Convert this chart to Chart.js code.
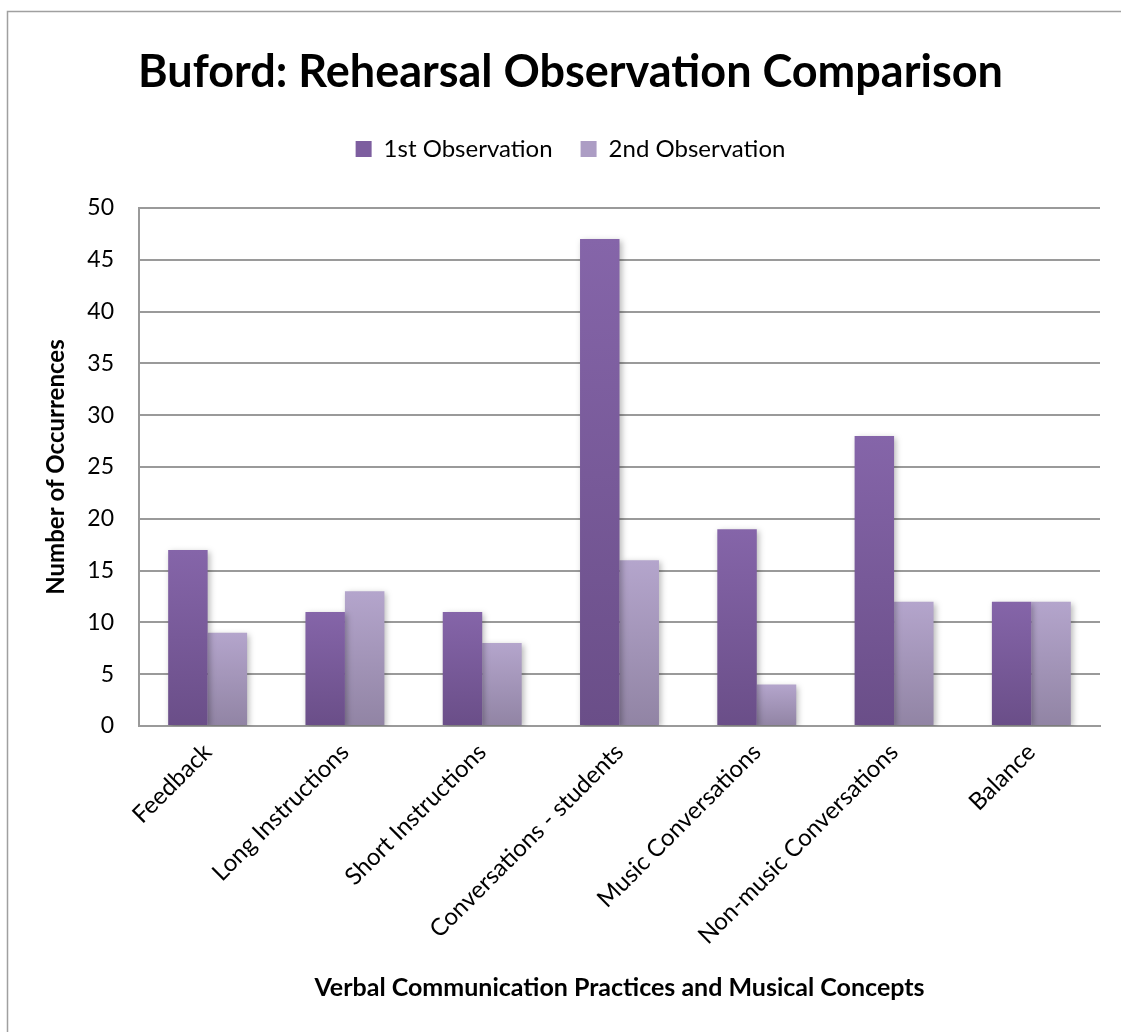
<!DOCTYPE html>
<html>
<head>
<meta charset="utf-8">
<script src="https://cdn.jsdelivr.net/npm/chart.js@4.4.0/dist/chart.umd.min.js"></script>
<style>
  html, body { margin: 0; padding: 0; background: #fff; }
  #wrap { width: 1121px; height: 1032px; }
</style>
</head>
<body>
<div id="wrap"><canvas id="chart"></canvas></div>
<script>
var categories = ['Feedback', 'Long Instructions', 'Short Instructions', 'Conversations - students',
    'Music Conversations', 'Non-music Conversations', 'Balance'];
var firstObs = [17, 11, 11, 47, 19, 28, 12];
var secondObs = [9, 13, 8, 16, 4, 12, 12];
var yTicks = [0, 5, 10, 15, 20, 25, 30, 35, 40, 45, 50];

var font = 'Lato, "Open Sans", sans-serif';

// each bar fades from light at its top to dark at the baseline
function gradient(top, bottom) {
    return function (c) {
        var chart = c.chart;
        if (!chart.chartArea || c.type !== 'data') return top;
        var y = chart.scales.y;
        var y0 = y.getPixelForValue(0);
        var y1 = y.getPixelForValue(c.raw);
        if (y0 - y1 < 1) return top;
        var g = chart.ctx.createLinearGradient(0, y1, 0, y0);
        g.addColorStop(0, top);
        g.addColorStop(1, bottom);
        return g;
    };
}

var frame = {
    id: 'frame',
    beforeInit: function (chart) {
        // leave more room under the legend
        if (chart.legend) {
            var fit = chart.legend.fit;
            chart.legend.fit = function () {
                fit.call(this);
                this.height += 37;
            };
        }
    },
    beforeDraw: function (chart) {
        var ctx = chart.ctx;
        ctx.save();
        ctx.fillStyle = '#fff';
        ctx.fillRect(0, 0, chart.width, chart.height);
        ctx.strokeStyle = '#a0a0a0';
        ctx.lineWidth = 1.5;
        ctx.strokeRect(7.5, 11.5, chart.width + 20, chart.height + 20);
        ctx.restore();
    },
    beforeDatasetsDraw: function (chart) {
        var ctx = chart.ctx;
        ctx.save();
        ctx.shadowColor = 'rgba(0,0,0,0.28)';
        ctx.shadowBlur = 6;
        ctx.shadowOffsetX = 2;
        ctx.shadowOffsetY = 2;
    },
    afterDatasetsDraw: function (chart) {
        chart.ctx.restore();
    }
};

new Chart(document.getElementById('chart'), {
    type: 'bar',
    data: {
        labels: categories,
        datasets: [
            {
                label: '1st Observation',
                data: firstObs,
                backgroundColor: gradient('#8565a9', '#6a4e88'),
                borderWidth: 0
            },
            {
                label: '2nd Observation',
                data: secondObs,
                backgroundColor: gradient('#b4a5cc', '#9184a4'),
                borderWidth: 0
            }
        ]
    },
    plugins: [frame],
    options: {
        responsive: true,
        maintainAspectRatio: false,
        animation: false,
        layout: { padding: { left: 20, right: 0, top: 0, bottom: 0 } },
        datasets: { bar: { barPercentage: 1, categoryPercentage: 0.575 } },
        plugins: {
            title: {
                display: true,
                text: 'Buford: Rehearsal Observation Comparison',
                color: '#000',
                font: { family: font, size: 45, weight: 'bold' },
                padding: { top: 45, bottom: 10 }
            },
            legend: {
                position: 'top',
                labels: {
                    color: '#000',
                    font: { family: font, size: 24 },
                    boxWidth: 16,
                    boxHeight: 16,
                    padding: 28,
                    generateLabels: function (chart) {
                        var tops = ['#7d5e9f', '#ac9dc4'];
                        return chart.data.datasets.map(function (ds, i) {
                            return {
                                text: ds.label,
                                fillStyle: tops[i],
                                strokeStyle: tops[i],
                                lineWidth: 0,
                                datasetIndex: i,
                                fontColor: '#000'
                            };
                        });
                    }
                }
            },
            tooltip: { enabled: false }
        },
        scales: {
            x: {
                grid: { display: false },
                border: { color: '#9a9a9a', width: 2 },
                ticks: {
                    color: '#000',
                    font: { family: font, size: 24 },
                    minRotation: 45,
                    maxRotation: 45,
                    padding: 4
                },
                title: {
                    display: true,
                    text: 'Verbal Communication Practices and Musical Concepts',
                    color: '#000',
                    font: { family: font, size: 25, weight: 'bold' },
                    padding: { top: 10, bottom: 29 }
                },
                afterFit: function (s) { s.height = 306; }
            },
            y: {
                min: 0,
                max: 50,
                afterBuildTicks: function (s) {
                    s.ticks = yTicks.map(function (v) { return { value: v }; });
                },
                grid: { color: '#9a9a9a', lineWidth: 2, drawTicks: false },
                border: { color: '#9a9a9a', width: 2 },
                ticks: {
                    color: '#000',
                    font: { family: font, size: 23 },
                    padding: 25
                },
                title: {
                    display: true,
                    text: 'Number of Occurrences',
                    color: '#000',
                    font: { family: font, size: 24, weight: 'bold' },
                    padding: { top: 22, bottom: 0 }
                },
                afterFit: function (s) { s.width = 119; }
            },
            y2: {
                position: 'right',
                display: true,
                grid: { display: false },
                border: { display: false },
                ticks: { display: false },
                afterFit: function (s) { s.width = 21; }
            }
        }
    }
});
</script>
</body>
</html>
